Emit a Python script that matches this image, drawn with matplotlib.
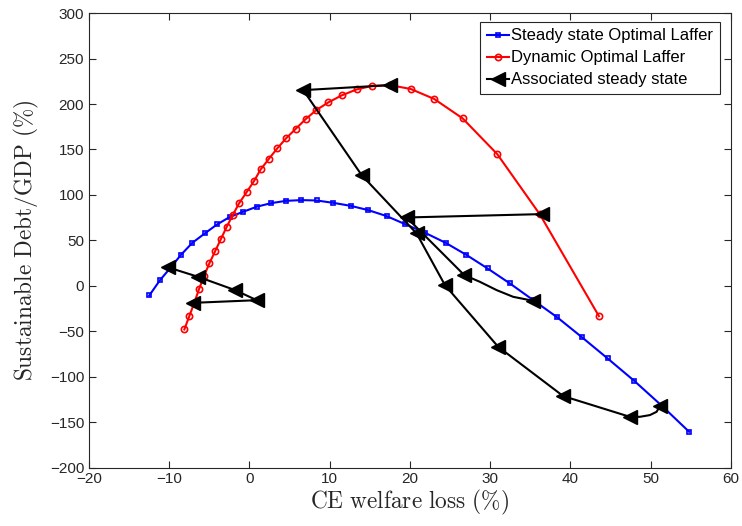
import matplotlib
matplotlib.use("Agg")
import matplotlib.pyplot as plt

# Steady state Optimal Laffer (blue squares)
ss_x = [-12.49, -11.15, -9.84, -8.54, -7.13, -5.58, -4.05, -2.49, -0.81, 0.93, 2.72, 4.55,
        6.48, 8.37, 10.44, 12.61, 14.80, 17.10, 19.38, 21.87, 24.45, 27.02, 29.68, 32.46,
        35.36, 38.38, 41.47, 44.64, 47.95, 51.40, 54.80]
ss_y = [-10.6, 6.3, 20.0, 34.1, 47.3, 57.6, 67.5, 75.6, 81.4, 87.1, 91.0, 93.5,
        94.3, 93.9, 91.3, 88.0, 83.3, 76.7, 67.9, 58.4, 47.3, 34.1, 19.1, 2.6,
        -15.7, -34.8, -56.8, -79.9, -104.5, -132.0, -160.6]

# Dynamic Optimal Laffer (red circles)
dyn_x = [-8.12, -7.50, -6.88, -6.29, -5.67, -5.01, -4.26, -3.59, -2.84, -2.09, -1.31, -0.37,
         0.56, 1.40, 2.39, 3.46, 4.55, 5.76, 7.00, 8.32, 9.82, 11.49, 13.36, 15.30,
         17.51, 20.09, 23.02, 26.57, 30.88, 36.20, 43.55]
dyn_y = [-48.0, -33.3, -18.7, -3.6, 10.7, 24.6, 38.5, 51.0, 64.9, 77.8, 90.6, 102.9,
         115.2, 128.1, 139.4, 151.2, 162.2, 172.7, 183.4, 193.3, 201.8, 209.5, 216.1, 220.0,
         220.8, 216.6, 205.6, 184.2, 144.9, 78.5, -33.3]

# Associated steady state paths (black, left-pointing triangles)
p1_x = [17.51, 6.70, 13.98, 20.83, 24.36, 31.00, 39.10, 47.41, 48.66, 49.91, 50.74, 51.15]
p1_y = [220.8, 215.3, 121.8, 57.6, 0.8, -67.1, -121.3, -144.1, -144.1, -142.2, -138.6, -132.4]
p1_mark = [0, 1, 2, 3, 4, 5, 6, 7, 11]

p2_x = [36.41, 19.59, 26.77, 28.72, 30.80, 32.87, 35.36]
p2_y = [78.9, 75.2, 11.8, 4.4, -4.7, -12.1, -16.5]
p2_mark = [0, 1, 2, 6]

p3_x = [-7.00, 0.90, -1.80, -6.40, -10.10]
p3_y = [-18.7, -15.8, -4.7, 9.9, 20.2]
p3_mark = [0, 1, 2, 3, 4]

xticks = [-20, -10, 0, 10, 20, 30, 40, 50, 60]
yticks = [-200, -150, -100, -50, 0, 50, 100, 150, 200, 250, 300]

plt.rcParams['font.family'] = ['Liberation Sans', 'DejaVu Sans']
plt.rcParams['mathtext.fontset'] = 'cm'

fig = plt.figure(figsize=(7.42, 5.26), dpi=100)
ax = fig.add_axes([0.12, 0.111, 0.865, 0.864])

ax.plot(ss_x, ss_y, '-s', color='#0000ff', lw=1.5, ms=3.5, mfc='none', mew=1.2,
        label='Steady state Optimal Laffer', zorder=3)
ax.plot(dyn_x, dyn_y, '-o', color='#ff0000', lw=1.5, ms=4.5, mfc='none', mew=1.2,
        label='Dynamic Optimal Laffer', zorder=3)
ax.plot(p1_x, p1_y, '-<', color='black', lw=1.5, ms=10.5, markevery=p1_mark,
        label='Associated steady state', zorder=4)
ax.plot(p2_x, p2_y, '-<', color='black', lw=1.5, ms=10.5, markevery=p2_mark, zorder=4)
ax.plot(p3_x, p3_y, '-<', color='black', lw=1.5, ms=10.5, markevery=p3_mark, zorder=4)

ax.set_xlim(-20, 60)
ax.set_ylim(-200, 300)
ax.set_xticks(xticks)
ax.set_yticks(yticks)
ax.tick_params(direction='in', top=True, right=True, length=5, width=0.8,
               colors='#262626', labelsize=11, labelcolor='#262626')
for s in ax.spines.values():
    s.set_color('#262626')
    s.set_linewidth(0.8)

ax.set_xlabel(r'$\mathrm{CE\ welfare\ loss\ (\%)}$', fontsize=16.8, color='#262626', labelpad=1)
ax.set_ylabel(r'$\mathrm{Sustainable\ Debt/GDP\ (\%)}$', fontsize=16.8, color='#262626', labelpad=6)

leg = ax.legend(loc='upper right', bbox_to_anchor=(0.983, 0.981), fontsize=12,
                frameon=True, fancybox=False, framealpha=1, edgecolor='#262626',
                handlelength=1.3, handletextpad=0.15, borderpad=0.4, labelspacing=0.42,
                borderaxespad=0)
leg.get_frame().set_linewidth(0.8)

fig.savefig('out.png', dpi=100)
